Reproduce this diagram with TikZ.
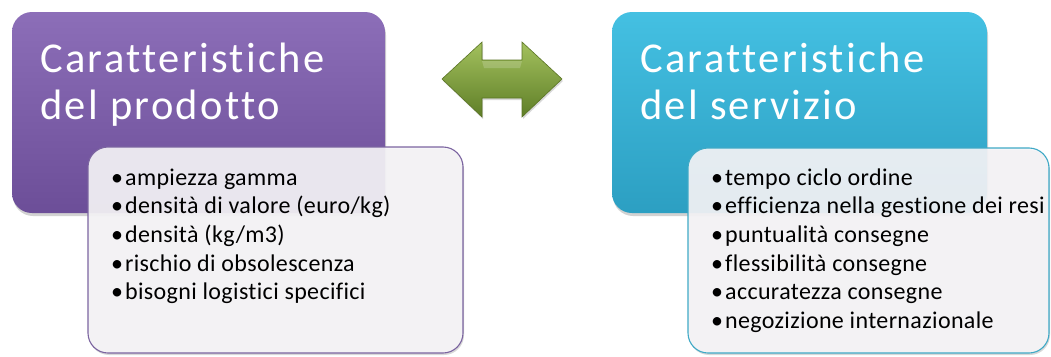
\documentclass[tikz,border=0pt]{standalone}
\usepackage{fontspec}
\setmainfont[Ligatures={NoCommon}]{Carlito}
\usetikzlibrary{shadows}
\definecolor{purpleTop}{HTML}{8C6EB8}
\definecolor{purpleBot}{HTML}{6C4E98}
\definecolor{purpleEdge}{HTML}{7B64A0}
\definecolor{tealTop}{HTML}{44C0E2}
\definecolor{tealBot}{HTML}{2C9FC2}
\definecolor{tealEdge}{HTML}{3FA9C6}
\definecolor{greenTop}{HTML}{A3C15E}
\definecolor{greenBot}{HTML}{5F7E27}
\definecolor{greenEdge}{HTML}{5A7424}
\definecolor{cardFill}{HTML}{F6F5F8}
\tikzset{
  headbox/.style={rounded corners=20pt, drop shadow={opacity=0.35, shadow xshift=1pt, shadow yshift=-3pt}},
  card/.style={rounded corners=20pt, line width=1.1pt, fill=cardFill, fill opacity=0.9,
    drop shadow={opacity=0.3, shadow xshift=1pt, shadow yshift=-2pt}},
  title/.style={anchor=base west, inner sep=0pt, text=white,
    font=\fontsize{42.5}{47}\selectfont\addfontfeature{LetterSpace=5.5}},
  item/.style={anchor=base west, inner sep=0pt, text=black,
    font=\fontsize{24}{28}\selectfont\addfontfeature{LetterSpace=1.5}},
}
\begin{document}
\begin{tikzpicture}[x=1pt,y=-1pt]
\useasboundingbox (0,0) rectangle (1051,356);
\fill[white] (0,0) rectangle (1051,356);

% left header box
\path[headbox, top color=purpleTop, bottom color=purpleBot]
  (12,12) rectangle (385,213);
\node[title] (pt1) at (40,72) {Caratteristiche};
\node[title] (pt2) at (40,119) {del prodotto};

% left card
\path[card, draw=purpleEdge] (88,147) rectangle (463,353);
\foreach \t [count=\i] in {ampiezza gamma, densità di valore (euro/kg),
    densità (kg/m3), rischio di obsolescenza, bisogni logistici specifici}
  \node[item] (p\i) at (111,{185+28.7*(\i-1)}) {•\hspace{2pt}\t};

% right header box
\path[headbox, top color=tealTop, bottom color=tealBot]
  (612,12) rectangle (987,213);
\node[title] (st1) at (640,72) {Caratteristiche};
\node[title] (st2) at (640,119) {del servizio};

% right card
\path[card, draw=tealEdge] (688,148) rectangle (1049,353);
\foreach \t [count=\i] in {tempo ciclo ordine, efficienza nella gestione dei resi,
    puntualità consegne, flessibilità consegne, accuratezza consegne,
    negozizione internazionale}
  \node[item] (s\i) at (711,{185+28.7*(\i-1)}) {•\hspace{2pt}\t};

% double-headed block arrow
\path[top color=greenTop, bottom color=greenBot, draw=greenEdge, line width=0.6pt,
      drop shadow={opacity=0.3, shadow xshift=1pt, shadow yshift=-2pt}]
  (442,79) -- (482,42) -- (482,60) -- (522,60) -- (522,42) -- (562,79)
  -- (522,117) -- (522,98) -- (482,98) -- (482,117) -- cycle;
\fill[white, opacity=0.18] (482,61) -- (522,61) -- (520,68) -- (484,68) -- cycle;
\end{tikzpicture}
\end{document}
